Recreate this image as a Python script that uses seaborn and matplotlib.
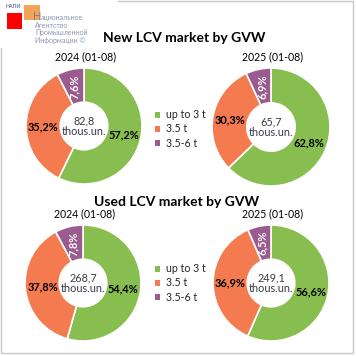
import numpy as np
import pandas as pd
import seaborn as sns
import matplotlib.pyplot as plt
from matplotlib.patches import Rectangle, Patch

sns.set_theme(style="white")
plt.rcParams['font.family'] = ['Lato', 'DejaVu Sans']

# data
segments = ["up to 3 t", "3.5 t", "3.5-6 t"]
periods = ["2024 (01-08)", "2025 (01-08)"]
new_shares = {"2024 (01-08)": [57.2, 35.2, 7.6], "2025 (01-08)": [62.8, 30.3, 6.9]}
used_shares = {"2024 (01-08)": [54.4, 37.8, 7.8], "2025 (01-08)": [56.6, 36.9, 6.5]}
new_totals = ["82,8", "65,7"]
used_totals = ["268,7", "249,1"]
colors = ["#88BE50", "#F47A50", "#9B5B8F"]

W = H = 356
fig = plt.figure(figsize=(W / 100, H / 100), dpi=100)
fig.patch.set_facecolor("white")


def fx(x):
    return x / W


def fy(y):
    return 1 - y / H


def donut(cx, cy, r, vals, total, period):
    ax = fig.add_axes([fx(cx - r), fy(cy + r), 2 * r / W, 2 * r / H])
    wedges, _, autotexts = ax.pie(
        vals, colors=colors, startangle=90, counterclock=False,
        wedgeprops=dict(width=0.59, edgecolor="white", linewidth=1.2),
        autopct=lambda p: f"{p:.1f}%".replace(".", ","), pctdistance=0.7,
        textprops=dict(fontsize=7.9, fontweight="bold", color="black"))
    autotexts[2].set_color("white")
    autotexts[2].set_rotation(90)
    ax.text(0, 0, f"{total}\nthous.un.", ha="center", va="center",
            fontsize=7.8, color="#3A3A4A", linespacing=1.0)
    ax.set_xlim(-1, 1)
    ax.set_ylim(-1, 1)
    ax.set_aspect("equal")
    ax.axis("off")
    fig.text(fx(cx + 2), fy(cy - r - 11), period, ha="center", va="center",
             fontsize=7.6, color="black")
    return wedges


donut(84, 126, 58, new_shares[periods[0]], new_totals[0], periods[0])
donut(271, 127, 59, new_shares[periods[1]], new_totals[1], periods[1])
donut(83, 283, 58, used_shares[periods[0]], used_totals[0], periods[0])
donut(271, 283, 58, used_shares[periods[1]], used_totals[1], periods[1])

fig.text(fx(184), fy(38), "New LCV market by GVW", ha="center", va="center",
         fontsize=10, fontweight="bold", color="black")
fig.text(fx(177), fy(202), "Used LCV market by GVW", ha="center", va="center",
         fontsize=10, fontweight="bold", color="black")

handles = [Patch(facecolor=c, edgecolor="none") for c in colors]
for ly in [129, 283]:
    fig.legend(handles, segments, loc="center left",
               bbox_to_anchor=(fx(155), fy(ly)), frameon=False,
               fontsize=7.6, handlelength=0.5, handleheight=0.5,
               handletextpad=0.5, labelspacing=0.3, borderpad=0,
               borderaxespad=0)

# frame
fig.patches.append(Rectangle((fx(1), fy(353)), 352 / W, 352 / H,
                             transform=fig.transFigure, fill=False,
                             edgecolor="#C8C8C8", linewidth=1))
fig.patches.append(Rectangle((0, fy(48)), 118 / W, 48 / H,
                             transform=fig.transFigure, facecolor="white",
                             edgecolor="none"))

# logo
fig.patches.append(Rectangle((fx(7), fy(29)), 15 / W, 16 / H,
                             transform=fig.transFigure, facecolor="#FF0000",
                             edgecolor="none"))
fig.patches.append(Rectangle((fx(24), fy(20)), 16 / W, 15 / H,
                             transform=fig.transFigure, facecolor="#F29A45",
                             edgecolor="none", alpha=0.9))
fig.text(fx(6), fy(7), "НАПИ", fontsize=3.8, color="#6A7A9A",
         fontweight="bold", va="center", ha="left")
fig.text(fx(33), fy(17), "Н", fontsize=8, color="#7A8090", va="center", ha="left")
fig.text(fx(41), fy(17.5), "ациональное", fontsize=5, color="#8A96B0", va="center", ha="left")
for ty, t in zip([25, 33, 41], ["Агентство", "Промышленной", "Информации ©"]):
    fig.text(fx(35), fy(ty), t, fontsize=5, color="#8A96B0", va="center", ha="left")

fig.savefig("out.png", dpi=100, facecolor="white")
